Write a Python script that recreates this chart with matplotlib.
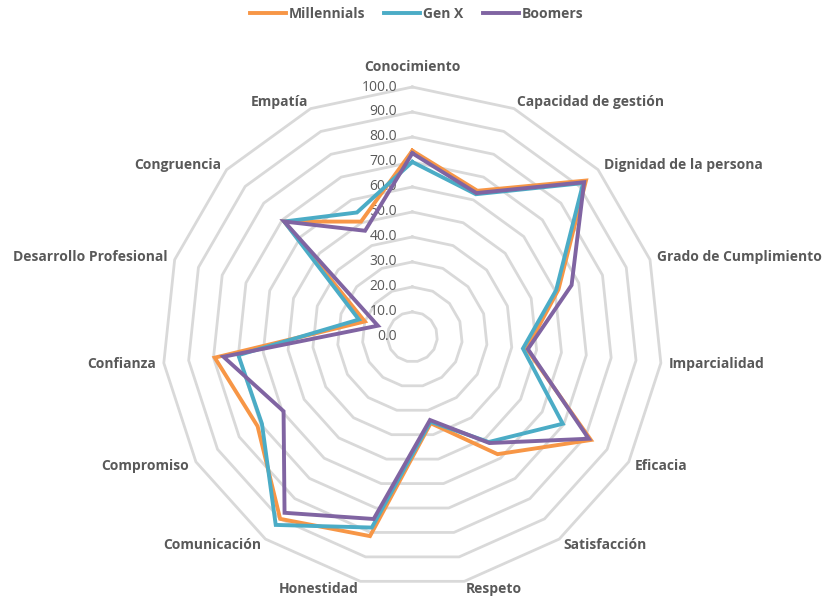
import numpy as np
import matplotlib.pyplot as plt

categories = ["Conocimiento", "Capacidad de gestión", "Dignidad de la persona",
              "Grado de Cumplimiento", "Imparcialidad", "Eficacia", "Satisfacción",
              "Respeto", "Honestidad", "Comunicación", "Compromiso", "Confianza",
              "Desarrollo Profesional", "Congruencia", "Empatía"]
millennials = [74.5, 64.0, 93.5, 61.5, 46.0, 82.5, 58.0, 35.3, 81.5, 90.0, 71.5, 79.5, 20.0, 69.0, 50.5]
gen_x = [70.0, 62.5, 92.0, 60.5, 44.5, 69.5, 52.0, 34.7, 78.0, 93.0, 69.5, 70.0, 22.5, 69.0, 54.5]
boomers = [73.5, 63.0, 92.5, 67.0, 46.5, 81.5, 52.5, 34.0, 74.5, 87.0, 59.5, 76.0, 14.5, 69.0, 46.5]
levels = [0, 10, 20, 30, 40, 50, 60, 70, 80, 90, 100]

series = [("Millennials", millennials, "#F79646"),
          ("Gen X", gen_x, "#4BACC6"),
          ("Boomers", boomers, "#8064A2")]

text_color = "#595959"
plt.rcParams["font.family"] = ["Open Sans", "DejaVu Sans"]

n = len(categories)
angles = np.linspace(0, 2 * np.pi, n, endpoint=False)
closed = np.append(angles, angles[0])

fig = plt.figure(figsize=(8.33, 6.0), dpi=100)
ax = fig.add_axes([0.195, 0.022, 0.600, 0.833], projection="polar")
ax.set_theta_zero_location("N")
ax.set_theta_direction(-1)
ax.set_ylim(0, 100)
ax.set_xticks([])
ax.set_yticks([])
ax.grid(False)
ax.spines["polar"].set_visible(False)
ax.patch.set_alpha(0)

# polygon grid
for lv in levels[1:]:
    ax.plot(closed, [lv] * (n + 1), color="#d9d9d9", lw=2.0, zorder=1, clip_on=False)

# radial labels
for lv in levels:
    ax.annotate(f"{lv:.1f}", xy=(0, lv), xytext=(-11, 0), textcoords="offset points",
                ha="right", va="center", fontsize=10, color=text_color, annotation_clip=False)

# category labels
for ang, name in zip(angles, categories):
    s = np.sin(ang)
    if abs(s) < 0.1:
        ha = "center"
    elif s > 0:
        ha = "left"
    else:
        ha = "right"
    if np.cos(ang) > 0.99:
        ax.text(ang, 108, name, ha="center", va="center", fontsize=10,
                fontweight="bold", color=text_color)
    else:
        ax.text(ang, 103, name, ha=ha, va="center", fontsize=10,
                fontweight="bold", color=text_color)

for name, vals, col in series:
    ax.plot(closed, vals + vals[:1], color=col, lw=2.8, label=name, zorder=3,
            solid_joinstyle="miter")

leg = fig.legend(loc="upper center", bbox_to_anchor=(0.5, 1.01), ncol=3, frameon=False,
                 prop={"weight": "bold", "size": 10}, handlelength=2.6, columnspacing=1.4,
                 handletextpad=0.2)
for t in leg.get_texts():
    t.set_color(text_color)

fig.savefig("out.png", dpi=100)
